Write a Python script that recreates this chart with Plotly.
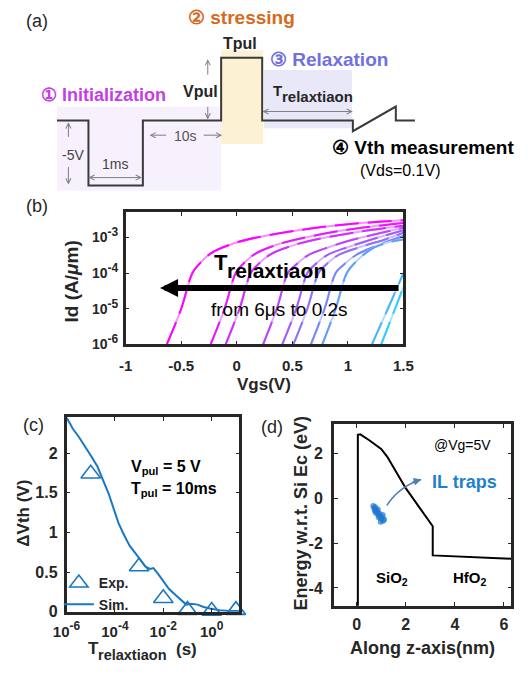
import plotly.graph_objects as go

W, H = 528, 677
FONT = "Liberation Sans, Arial, Helvetica, sans-serif"
INK = "#262626"


def px(x):
    return x / W


def py(y):
    return 1 - y / H


# ---------------- (a) measurement pulse sequence (schematic time units, volts)
seq_t = [45, 78, 78, 135, 135, 217, 217, 260, 260, 355, 355, 400, 400, 420]
seq_v = [0, 0, -5, -5, 0, 0, 4.8, 4.8, 0, 0, -0.83, 1.06, 0, 0]

# ---------------- (b) Id-Vgs after increasing relaxation time (log10 of Id in A/um)
vgs_curves = [
    [-0.63, -0.50, -0.40, -0.345, -0.23, -0.03, 0.18, 0.57, 1.00, 1.50],
    [-0.235, -0.11, -0.01, 0.045, 0.165, 0.365, 0.575, 0.96, 1.50],
    [-0.10, 0.025, 0.125, 0.18, 0.30, 0.50, 0.71, 1.10, 1.50],
    [0.237, 0.36, 0.46, 0.52, 0.64, 0.84, 1.05, 1.50],
    [0.41, 0.535, 0.635, 0.69, 0.81, 1.01, 1.22, 1.50],
    [0.51, 0.635, 0.735, 0.79, 0.91, 1.11, 1.32, 1.50],
    [0.667, 0.79, 0.89, 0.95, 1.07, 1.27, 1.50],
    [0.77, 0.89, 0.99, 1.06, 1.20, 1.35, 1.50],
    [1.216, 1.36, 1.50],
    [1.30, 1.40, 1.50],
]
log_id_curves = [
    [-6.00, -5.00, -4.00, -3.77, -3.44, -3.17, -3.00, -2.79, -2.63, -2.52],
    [-6.00, -5.00, -4.00, -3.78, -3.46, -3.20, -3.03, -2.80, -2.59],
    [-6.00, -5.00, -4.00, -3.79, -3.48, -3.23, -3.06, -2.84, -2.67],
    [-6.00, -5.00, -4.00, -3.80, -3.50, -3.26, -3.06, -2.73],
    [-6.00, -5.00, -4.00, -3.80, -3.50, -3.26, -3.05, -2.80],
    [-6.00, -5.00, -4.00, -3.80, -3.50, -3.27, -3.07, -2.87],
    [-6.00, -5.00, -4.00, -3.80, -3.50, -3.22, -2.96],
    [-6.00, -5.00, -4.00, -3.72, -3.35, -3.15, -3.06],
    [-6.00, -5.00, -4.00],
    [-6.00, -5.20, -4.39],
]
curve_colors = ["#ff00ff", "#e817ff", "#d12eff", "#ba45ff", "#a35cff",
                "#8f70ff", "#7887ff", "#619eff", "#4ab5ff", "#33ccff"]
b_xticks = [-1, -0.5, 0, 0.5, 1, 1.5]
b_xlabels = ["-1", "-0.5", "0", "0.5", "1", "1.5"]
b_ydecades = [-6, -5, -4, -3]

# ---------------- (c) threshold shift vs relaxation time
t_exp = [1e-5, 1e-3, 1e-2, 1e-1, 1.0, 10.0]
dvth_exp = [1.74, 0.57, 0.17, 0.02, 0.01, 0.02]
t_sim = [1.0e-6, 1.8e-6, 3.3e-6, 6.0e-6, 1.1e-5, 1.9e-5, 3.2e-5, 5.5e-5, 9.1e-5,
         1.4e-4, 2.2e-4, 4.1e-4, 7.4e-4, 1.2e-3, 1.8e-3, 2.9e-3, 3.9e-3, 6.0e-3,
         9.5e-3, 1.7e-2, 3.2e-2, 5.8e-2, 8.9e-2, 0.14, 0.26, 0.47, 0.85, 2.1, 5.2, 13.8]
dvth_sim = [2.45, 2.31, 2.20, 2.08, 1.95, 1.83, 1.66, 1.49, 1.29,
            1.12, 0.99, 0.83, 0.73, 0.64, 0.57, 0.54, 0.55, 0.48,
            0.39, 0.29, 0.21, 0.14, 0.09, 0.10, 0.09, 0.06, 0.04, 0.02, 0.01, 0.01]
c_xdecades = [-6, -4, -2, 0]
c_yticks = [0, 0.5, 1, 1.5, 2]
c_ylabels = ["0", "0.5", "1", "1.5", "2"]

# ---------------- (d) conduction band profile and IL trap positions
z_band = [0.05, 0.05, 0.15, 0.5, 1.0, 1.25, 2.0, 3.1, 3.1, 6.3]
e_band = [-5.0, 2.83, 2.85, 2.6, 2.2, 1.85, 0.45, -1.25, -2.55, -2.7]
z_trap = [0.68, 0.72, 0.76, 0.80, 0.78, 0.84, 0.88, 0.92, 0.90, 0.96, 1.00,
          1.04, 1.08, 1.12, 0.86, 0.98, 1.06, 0.74]
e_trap = [-0.35, -0.45, -0.40, -0.55, -0.65, -0.60, -0.72, -0.68, -0.85, -0.80,
          -0.92, -0.85, -1.00, -0.95, -0.50, -1.05, -0.75, -0.55]
d_xticks = [0, 2, 4, 6]
d_yticks = [-4, -2, 0, 2]


def tint(hex_color, f=0.55):
    r, g, b = (int(hex_color[i:i + 2], 16) for i in (1, 3, 5))
    r, g, b = (round(c + (255 - c) * f) for c in (r, g, b))
    return f"#{r:02x}{g:02x}{b:02x}"


def power_label(d, sup_px):
    return f"10<sup><span style='font-size:{sup_px}px'>{d}</span></sup>"


fig = go.Figure()

# (a) waveform
fig.add_trace(go.Scatter(x=seq_t, y=seq_v, mode="lines", xaxis="x4", yaxis="y4",
                         line=dict(color="#3a3a3a", width=2), showlegend=False,
                         hoverinfo="skip"))

# (b) transfer curves: lighter solid underlay with full-colour dashes on top
for vg, lg, col in zip(vgs_curves, log_id_curves, curve_colors):
    idv = [10 ** v for v in lg]
    fig.add_trace(go.Scatter(x=vg, y=idv, mode="lines", xaxis="x", yaxis="y",
                             line=dict(color=tint(col), width=2, shape="spline"),
                             showlegend=False, hoverinfo="skip"))
    fig.add_trace(go.Scatter(x=vg, y=idv, mode="lines", xaxis="x", yaxis="y",
                             line=dict(color=col, width=2, shape="spline",
                                       dash="24px,9px"),
                             showlegend=False, hoverinfo="skip"))

# (c) experiment and simulation
BLUE = "#1a78c2"
fig.add_trace(go.Scatter(x=t_exp, y=dvth_exp, mode="markers", name="Exp.",
                         xaxis="x2", yaxis="y2", cliponaxis=False,
                         marker=dict(symbol="triangle-up-open", size=17,
                                     color=BLUE, line=dict(width=1.6, color=BLUE))))
fig.add_trace(go.Scatter(x=t_sim, y=dvth_sim, mode="lines", name="Sim.",
                         xaxis="x2", yaxis="y2", line=dict(color=BLUE, width=2)))

# (d) band diagram and traps
fig.add_trace(go.Scatter(x=z_band, y=e_band, mode="lines", xaxis="x3", yaxis="y3",
                         line=dict(color="black", width=2), showlegend=False,
                         hoverinfo="skip"))
fig.add_trace(go.Scatter(x=z_trap, y=e_trap, mode="markers", xaxis="x3", yaxis="y3",
                         marker=dict(size=6, color="#1f78d0", opacity=0.7),
                         showlegend=False, hoverinfo="skip"))


def axis_style(size, standoff=0):
    return dict(showline=True, linewidth=2.5, linecolor=INK, mirror="allticks",
                ticks="inside", ticklen=4, tickwidth=1, tickcolor=INK,
                showgrid=False, zeroline=False, ticklabelstandoff=standoff,
                tickfont=dict(family=FONT, size=size, color=INK, weight="bold"))


fig.update_layout(
    width=W, height=H, margin=dict(l=0, r=0, t=0, b=0),
    paper_bgcolor="white", plot_bgcolor="rgba(0,0,0,0)",
    font=dict(family=FONT, color=INK),
    xaxis=dict(domain=[px(117), px(408)], range=[-1, 1.5], tickvals=b_xticks,
               ticktext=b_xlabels, anchor="y", **axis_style(15, 6)),
    yaxis=dict(domain=[py(349), py(215)], type="log", range=[-6, -2.29],
               tickvals=[10 ** d for d in b_ydecades],
               ticktext=[power_label(d, 12) for d in b_ydecades],
               anchor="x", **axis_style(14, 2)),
    xaxis2=dict(domain=[px(55), px(236)], type="log", range=[-6, 1.14],
                tickvals=[10 ** d for d in c_xdecades],
                ticktext=[power_label(d, 12) for d in c_xdecades],
                anchor="y2", **axis_style(15, 4)),
    yaxis2=dict(domain=[py(620), py(423)], range=[0, 2.45], tickvals=c_yticks,
                ticktext=c_ylabels, anchor="x2", **axis_style(16, 3)),
    xaxis3=dict(domain=[px(335), px(521)], range=[-0.93, 6.3], tickvals=d_xticks,
                ticktext=[str(v) for v in d_xticks], anchor="y3", **axis_style(16, 2)),
    yaxis3=dict(domain=[py(614), py(430)], range=[-4.8, 3.3], tickvals=d_yticks,
                ticktext=[str(v) for v in d_yticks], anchor="x3", **axis_style(16, 5)),
    xaxis4=dict(domain=[0, 1], range=[0, W], visible=False, anchor="y4"),
    yaxis4=dict(domain=[py(200), 1], range=[(122 - 200) / 13.2, 122 / 13.2],
                visible=False, anchor="x4"),
    showlegend=True,
    legend=dict(x=px(47), y=py(575), xanchor="left", yanchor="top",
                bgcolor="rgba(0,0,0,0)", itemwidth=30, tracegroupgap=0,
                font=dict(family=FONT, size=14, color=INK, weight="bold")),
)

# (a) shaded phases
shapes = [
    dict(type="rect", xref="paper", yref="paper", x0=px(45), x1=px(217),
         y0=py(193), y1=py(108), fillcolor="#f7f0fd", line=dict(width=0), layer="below"),
    dict(type="rect", xref="paper", yref="paper", x0=px(217), x1=px(261),
         y0=py(146), y1=py(51), fillcolor="#fdf1d4", line=dict(width=0), layer="below"),
    dict(type="rect", xref="paper", yref="paper", x0=px(262), x1=px(354),
         y0=py(130), y1=py(71), fillcolor="#e8e8f8", line=dict(width=0), layer="below"),
    # (d) curved pointer to the trap cluster
    dict(type="path", xref="x3", yref="y3", path="M 1.23,-0.32 Q 1.72,0.52 2.63,0.84",
         line=dict(color="#4a7eb4", width=1.5)),
]


def label(text, x, y, size, bold=False, color=INK, xanchor="center", angle=0):
    return dict(text=text, x=px(x), y=py(y), xref="paper", yref="paper",
                showarrow=False, xanchor=xanchor, yanchor="middle", textangle=angle,
                font=dict(family=FONT, size=size, color=color,
                          weight="bold" if bold else "normal"))


def garrow(hx, hy, tx, ty, both=False):
    return dict(text="", x=px(hx), y=py(hy), xref="paper", yref="paper",
                ax=tx - hx, ay=ty - hy, showarrow=True, arrowhead=5, arrowsize=1,
                arrowwidth=1, arrowcolor="#7f7f7f", standoff=0, startstandoff=0,
                arrowside="end+start" if both else "end")


ann = [
    # (a)
    label("(a)", 24, 21, 18),
    label("② stressing", 180, 18, 19, True, "#d66a1e", "left"),
    label("Tpul", 237, 44, 16, True),
    label("③ Relaxation", 266, 60, 19, True, "#7070e0", "left"),
    label("① Initialization", 26, 96, 18, True, "#c43ee6", "left"),
    label("Vpul", 195, 93, 16, True),
    label("T", 269, 92, 15, True, xanchor="left"),
    label("relaxtiaon", 279, 98, 15, True, xanchor="left"),
    label("10s", 180, 138, 14, color="#555555"),
    label("-5V", 62, 157, 14, color="#444444"),
    label("1ms", 106, 166, 14, color="#444444"),
    label("④ Vth measurement", 331, 149, 19, True, "black", "left"),
    label("(Vds=0.1V)", 360, 173, 16, color="black", xanchor="left"),
    garrow(57, 124, 57, 140), garrow(57, 187, 57, 168),
    garrow(134, 180, 79, 180, both=True),
    garrow(142, 137, 160, 137), garrow(218, 137, 198, 137),
    garrow(203, 60, 203, 77), garrow(203, 121, 203, 107),
    garrow(355, 113, 263, 113, both=True),
    # (b)
    label("(b)", 24, 209, 18),
    label("T", 207, 266, 22, True, "black", "left"),
    label("relaxtiaon", 221, 274, 21, True, "black", "left"),
    label("from 6μs to 0.2s", 204, 314, 19, color="black", xanchor="left"),
    label("Id (A/<i>μ</i>m)", 60, 285, 19, True, angle=-90),
    label("Vgs(V)", 262, 390, 17, True),
    dict(text="", x=px(153), y=py(292), xref="paper", yref="paper", ax=393 - 153, ay=0,
         showarrow=True, arrowhead=2, arrowsize=0.6, arrowwidth=6, arrowcolor="black",
         standoff=0),
    # (c)
    label("(c)", 20, 431, 18),
    label("V<sub>pul</sub> = 5 V", 120, 474, 16, True, "black", "left"),
    label("T<sub>pul</sub> = 10ms", 120, 496, 16, True, "black", "left"),
    label("ΔVth (V)", 10, 520, 17, True, angle=-90),
    label("T", 75, 657, 17, True, xanchor="left"),
    label("relaxtiaon", 86, 664, 14.5, True, xanchor="left"),
    label("(s)", 168, 658, 17, True, xanchor="left"),
    # (d)
    label("(d)", 270, 433, 18),
    label("@Vg=5V", 438, 451, 14, color="black", xanchor="left"),
    label("IL traps", 436, 489, 18, True, "#1f7fd1", "left"),
    label("SiO<sub>2</sub>", 396, 586, 15, True, "black"),
    label("HfO<sub>2</sub>", 478, 586, 15, True, "black"),
    label("Energy w.r.t. Si Ec (eV)", 301, 520, 18, True, angle=-90),
    label("Along z-axis(nm)", 428, 657, 18, True),
    dict(text="", x=2.63, y=0.84, xref="x3", yref="y3", ax=-10, ay=3, showarrow=True,
         arrowhead=2, arrowsize=1, arrowwidth=1.5, arrowcolor="#4a7eb4", standoff=0),
]

fig.update_layout(shapes=shapes, annotations=ann)
fig.write_html("out.html")
